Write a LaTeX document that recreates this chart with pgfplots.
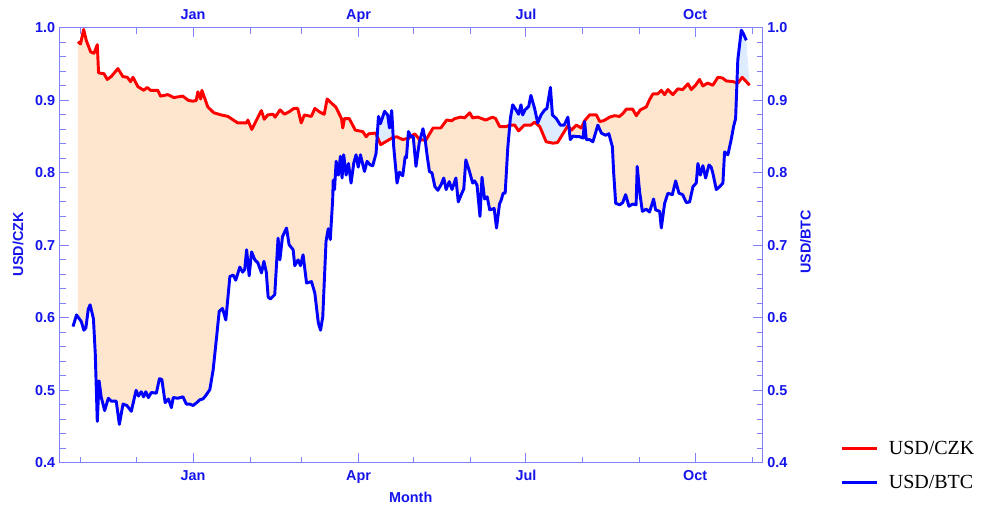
\documentclass[border=0pt]{standalone}
\usepackage{pgfplots}
\pgfplotsset{compat=1.18}
\usepackage{pgfplotstable}
\usepgfplotslibrary{fillbetween}
\usepackage{fontspec}
\setmainfont{Liberation Sans}
\newfontfamily\legendfont{Liberation Serif}
\definecolor{frame}{RGB}{128,128,255}
\definecolor{peach}{RGB}{254,229,206}
\definecolor{lightsky}{RGB}{221,236,255}
\definecolor{tickblue}{RGB}{20,20,235}
\tikzset{lab/.style={font=\fontsize{10.8}{13}\selectfont\bfseries, text=tickblue}}

% x = days since 1 November; y = normalised rate
\pgfplotstableread{
d v
-1.6 0.981
-0.2 0.978
1.5 0.998
2.9 0.983
5.3 0.967
7.1 0.965
8.9 0.977
9.6 0.938
12.5 0.937
14.3 0.929
16.5 0.933
20.1 0.944
22.8 0.933
25.2 0.932
27.0 0.926
28.3 0.932
31.0 0.919
34.2 0.914
36.0 0.918
37.9 0.914
41.8 0.914
43.3 0.906
47.3 0.908
50.5 0.904
55.4 0.906
58.5 0.900
60.9 0.899
62.7 0.900
63.6 0.912
65.1 0.902
65.8 0.914
69.0 0.891
72.3 0.883
76.3 0.880
79.9 0.878
85.3 0.869
90.1 0.869
90.8 0.873
92.9 0.860
98.1 0.886
99.7 0.874
101.6 0.880
104.5 0.881
105.6 0.877
108.3 0.887
110.7 0.881
113.6 0.885
115.8 0.889
117.9 0.889
119.8 0.869
121.5 0.880
125.3 0.878
127.2 0.889
129.9 0.884
132.3 0.881
133.9 0.902
136.8 0.895
138.6 0.891
141.7 0.875
142.4 0.862
143.3 0.875
145.9 0.875
149.2 0.859
153.3 0.857
155.1 0.850
156.5 0.854
160.3 0.855
163.0 0.839
169.0 0.848
171.7 0.850
175.0 0.846
178.3 0.848
181.5 0.854
184.2 0.846
187.5 0.845
191.5 0.862
195.7 0.862
198.9 0.873
201.6 0.872
203.3 0.875
206.5 0.877
208.7 0.876
211.4 0.883
213.0 0.876
215.8 0.877
220.1 0.873
223.9 0.877
225.5 0.875
227.7 0.864
231.3 0.864
233.2 0.866
235.9 0.866
238.0 0.858
241.1 0.866
244.7 0.866
246.7 0.870
249.5 0.864
253.0 0.843
256.7 0.841
259.2 0.842
262.1 0.854
264.8 0.865
266.7 0.859
269.4 0.866
272.1 0.862
273.9 0.872
276.6 0.880
280.3 0.880
282.1 0.871
284.2 0.872
287.5 0.877
290.2 0.879
292.9 0.878
294.7 0.882
296.6 0.888
300.0 0.888
302.0 0.879
304.2 0.887
307.4 0.891
309.2 0.901
311.0 0.909
313.6 0.909
315.6 0.914
317.4 0.908
319.2 0.915
321.9 0.908
324.6 0.916
327.2 0.915
330.1 0.923
331.9 0.915
334.2 0.921
336.4 0.929
338.2 0.920
340.8 0.924
343.6 0.921
346.4 0.932
348.9 0.931
350.9 0.927
354.5 0.926
357.2 0.924
359.6 0.932
361.8 0.926
363.6 0.921
}\czk

\pgfplotstableread{
d v
-4.3 0.588
-2.4 0.604
0.2 0.595
1.6 0.583
2.7 0.586
4.0 0.612
5.0 0.618
6.8 0.599
7.8 0.551
8.9 0.457
9.9 0.513
11.0 0.491
12.9 0.472
14.9 0.489
16.5 0.485
19.2 0.485
20.9 0.453
22.9 0.481
25.0 0.479
27.4 0.471
30.0 0.500
31.3 0.492
32.8 0.498
34.1 0.491
35.3 0.498
36.7 0.490
38.3 0.497
41.0 0.496
42.7 0.516
44.0 0.515
45.8 0.483
47.6 0.488
49.2 0.476
50.2 0.490
52.7 0.489
55.5 0.491
57.3 0.481
59.2 0.481
61.0 0.479
63.0 0.483
64.7 0.487
66.3 0.488
67.7 0.492
70.1 0.501
71.9 0.528
73.8 0.574
75.2 0.609
77.0 0.613
78.8 0.597
81.0 0.657
82.8 0.659
84.2 0.652
86.4 0.670
88.0 0.663
89.1 0.667
90.1 0.694
91.5 0.658
92.8 0.691
94.6 0.680
96.2 0.676
98.2 0.662
99.5 0.678
100.8 0.663
101.8 0.629
103.0 0.626
105.4 0.632
107.2 0.710
108.2 0.680
109.6 0.712
111.8 0.724
113.2 0.701
115.4 0.694
116.3 0.672
118.1 0.680
119.4 0.672
120.8 0.687
122.7 0.648
125.4 0.650
127.2 0.634
129.1 0.593
130.3 0.583
131.5 0.601
133.3 0.706
134.5 0.723
135.6 0.708
136.9 0.763
137.2 0.790
137.9 0.777
138.8 0.816
140.0 0.797
141.1 0.823
142.0 0.793
142.9 0.825
144.2 0.797
145.5 0.813
146.9 0.786
148.4 0.814
149.6 0.825
150.8 0.808
152.0 0.825
154.2 0.802
155.6 0.816
157.3 0.811
158.7 0.810
160.5 0.827
161.8 0.878
162.9 0.868
165.1 0.885
166.8 0.880
167.8 0.862
169.0 0.886
170.1 0.836
171.9 0.786
173.2 0.801
175.0 0.796
176.3 0.822
177.0 0.821
178.1 0.857
179.5 0.850
180.7 0.850
182.2 0.809
184.0 0.842
186.0 0.861
187.2 0.846
188.0 0.829
189.5 0.802
190.9 0.800
192.5 0.781
194.1 0.776
195.9 0.784
197.3 0.793
198.6 0.777
200.3 0.788
201.8 0.777
203.9 0.793
205.2 0.760
206.8 0.770
208.2 0.778
209.3 0.818
211.3 0.802
213.0 0.786
214.1 0.789
215.4 0.783
217.0 0.740
218.1 0.794
219.5 0.764
220.9 0.767
222.3 0.749
224.7 0.751
226.0 0.724
227.6 0.757
228.6 0.763
229.6 0.772
230.7 0.772
232.1 0.834
233.5 0.875
234.8 0.894
236.6 0.887
238.0 0.881
239.3 0.894
240.2 0.880
241.5 0.887
243.5 0.892
244.7 0.907
246.7 0.889
248.4 0.869
250.2 0.880
252.2 0.887
253.4 0.889
255.3 0.918
256.4 0.880
258.5 0.875
260.7 0.866
262.8 0.866
264.8 0.877
266.1 0.846
267.7 0.851
269.4 0.850
271.2 0.850
273.0 0.848
273.9 0.871
274.8 0.846
276.6 0.846
278.4 0.843
281.1 0.866
283.0 0.855
285.3 0.852
287.1 0.854
289.0 0.836
289.7 0.800
290.8 0.758
293.0 0.756
294.6 0.759
296.2 0.770
298.0 0.754
300.0 0.757
301.9 0.756
302.5 0.809
303.8 0.774
305.3 0.747
307.4 0.750
309.2 0.746
311.4 0.764
312.5 0.749
314.7 0.747
315.6 0.724
317.4 0.758
319.2 0.772
321.6 0.770
323.4 0.789
325.2 0.772
327.2 0.770
329.2 0.759
331.0 0.760
332.8 0.781
334.6 0.786
335.5 0.813
336.8 0.797
338.2 0.810
339.7 0.793
341.5 0.811
342.7 0.808
343.6 0.800
345.5 0.777
347.3 0.781
349.1 0.786
350.0 0.829
351.8 0.825
353.6 0.846
354.9 0.864
356.0 0.875
357.2 0.956
359.1 0.997
360.1 0.993
361.8 0.983
}\btc

\begin{document}
\begin{tikzpicture}
\pgfplotsset{
  common/.style={
    scale only axis, width=527.25pt, height=326.25pt,
    xmin=-11.41, xmax=370.65, ymin=0.4, ymax=1.0,
    xtick={61,151,242,334}, xticklabels={Jan,Apr,Jul,Oct},
    minor xtick={0,30,92,120,181,212,273,304,365},
    ytick={0.4,0.5,0.6,0.7,0.8,0.9,1.0},
    minor y tick num=4,
    yticklabel={\pgfmathprintnumber[assume math mode=true,fixed,fixed zerofill,precision=1]{\tick}},
    tick align=inside,
    axis line style={frame, line width=0.75pt},
    tick style={frame, line width=0.75pt},
    major tick length=7pt, minor tick length=4.5pt,
    tick label style={font=\fontsize{10.8}{13}\selectfont\bfseries, text=tickblue},
    xticklabel style={text height=1.6ex, text depth=0.35ex, inner ysep=4.6pt},
  },
}
\begin{axis}[common,
  every axis y label/.style={at={(rel axis cs:-0.0597,0.503)}, rotate=90, anchor=center, lab},
  every axis x label/.style={at={(rel axis cs:0.4993,-0.0805)}, anchor=center, lab},
  xlabel={Month}, ylabel={USD/CZK},
  legend style={at={(rel axis cs:1.105,-0.007)}, anchor=west, draw=none, fill=none,
    font=\legendfont\fontsize{15}{17}\selectfont, row sep=10pt, text=black},
  legend cell align=left,
  legend image code/.code={\draw[#1] (0pt,0pt) -- (26pt,0pt); \path (32pt,0pt);},
]
\addplot[draw=none, name path=R, forget plot] table[x=d,y=v]{\czk};
\addplot[draw=none, name path=B, forget plot] table[x=d,y=v]{\btc};
\addplot[peach, forget plot] fill between[of=R and B, split,
   soft clip={domain=-1.6:363.6},
   every even segment/.style={fill=peach},
   every odd segment/.style={fill=lightsky}];
\addplot[red, line width=2.2pt, line join=round] table[x=d,y=v]{\czk};
\addlegendentry{USD/CZK}
\addplot[blue, line width=2.2pt, line join=round] table[x=d,y=v]{\btc};
\addlegendentry{USD/BTC}
\end{axis}
\begin{axis}[common, clip=false,
  axis x line*=top, axis y line*=right,
  major tick length=0pt, minor tick length=0pt,
  every axis y label/.style={at={(rel axis cs:1.0612,0.508)}, rotate=90, anchor=center, lab},
  ylabel={USD/BTC},
]
\addplot[draw=none] coordinates {(0,0.5)};
\path (rel axis cs:-0.0853,-0.1034) rectangle (rel axis cs:1.3101,1.0644);
\end{axis}
\end{tikzpicture}
\end{document}
